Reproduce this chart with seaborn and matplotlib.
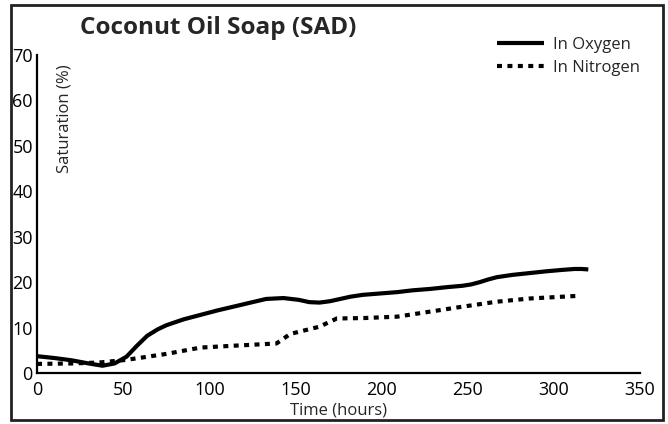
import matplotlib
matplotlib.use("Agg")
import matplotlib.pyplot as plt
import seaborn as sns
import pandas as pd
from matplotlib.patches import Rectangle

oxygen_hours = [0, 10, 20, 30, 38, 45, 52, 58, 64, 70, 75, 85, 95, 105, 114, 124, 133, 143, 152, 158, 164, 170, 176, 182, 189, 199, 209, 218, 228, 238, 247, 252, 257, 262, 267, 276, 286, 296, 305, 312, 316, 320]
oxygen_sat = [3.7, 3.3, 2.8, 2.1, 1.6, 2.1, 3.6, 6.0, 8.2, 9.6, 10.5, 11.8, 12.8, 13.8, 14.6, 15.5, 16.3, 16.5, 16.1, 15.6, 15.5, 15.8, 16.3, 16.8, 17.2, 17.5, 17.8, 18.2, 18.5, 18.9, 19.2, 19.5, 20.0, 20.6, 21.1, 21.6, 22.0, 22.4, 22.7, 22.9, 22.9, 22.8]
nitrogen_hours = [0, 20, 36, 52, 75, 95, 114, 139, 147, 164, 174, 190, 209, 228, 247, 267, 286, 315]
nitrogen_sat = [2.0, 2.1, 2.3, 2.9, 4.2, 5.6, 6.0, 6.5, 8.6, 10.2, 12.0, 12.1, 12.4, 13.5, 14.6, 15.7, 16.4, 17.0]

df_o = pd.DataFrame({"Time": oxygen_hours, "Sat": oxygen_sat})
df_n = pd.DataFrame({"Time": nitrogen_hours, "Sat": nitrogen_sat})

sns.set_style("white")
plt.rcParams["font.family"] = ["Open Sans", "DejaVu Sans"]

fig = plt.figure(figsize=(6.68, 4.24), dpi=100)
ax = fig.add_axes([37/668, 51/424, 603/668, 318/424])

sns.lineplot(data=df_o, x="Time", y="Sat", ax=ax, color="black", linewidth=3.0,
             label="In Oxygen", solid_capstyle="butt", solid_joinstyle="round")
sns.lineplot(data=df_n, x="Time", y="Sat", ax=ax, color="black", linewidth=3.0,
             linestyle=(0, (1.2, 1.3)), dash_capstyle="butt", label="In Nitrogen")

ax.set_xlim(0, 350)
ax.set_ylim(0, 70)
ax.set_xticks(range(0, 351, 50))
ax.set_yticks(range(0, 71, 10))
ax.tick_params(axis="x", length=0, labelsize=13, pad=6, colors="black")
ax.tick_params(axis="y", length=0, labelsize=13, pad=3, colors="black")
for s in ["top", "right"]:
    ax.spines[s].set_visible(False)
for s in ["left", "bottom"]:
    ax.spines[s].set_color("black")
    ax.spines[s].set_linewidth(1.6)
ax.set_xlabel("Time (hours)", fontsize=12, labelpad=2)
ax.set_ylabel("")
ax.text(0.046, 0.97, "Saturation (%)", transform=ax.transAxes, rotation=90,
        ha="center", va="top", fontsize=12)

leg = ax.legend(loc="upper right", bbox_to_anchor=(1.025, 1.105), frameon=False,
                fontsize=12, handlelength=2.8, handletextpad=0.55, labelspacing=0.45)

fig.text(80/668, 1 - 28/424, "Coconut Oil Soap (SAD)", fontsize=17.5, fontweight="bold",
         ha="left", va="center")

fig.patches.append(Rectangle((11/668, 4/424), 652/668, 415/424, transform=fig.transFigure,
                             fill=False, edgecolor="#222222", linewidth=2))

fig.savefig("out.png", dpi=100)
